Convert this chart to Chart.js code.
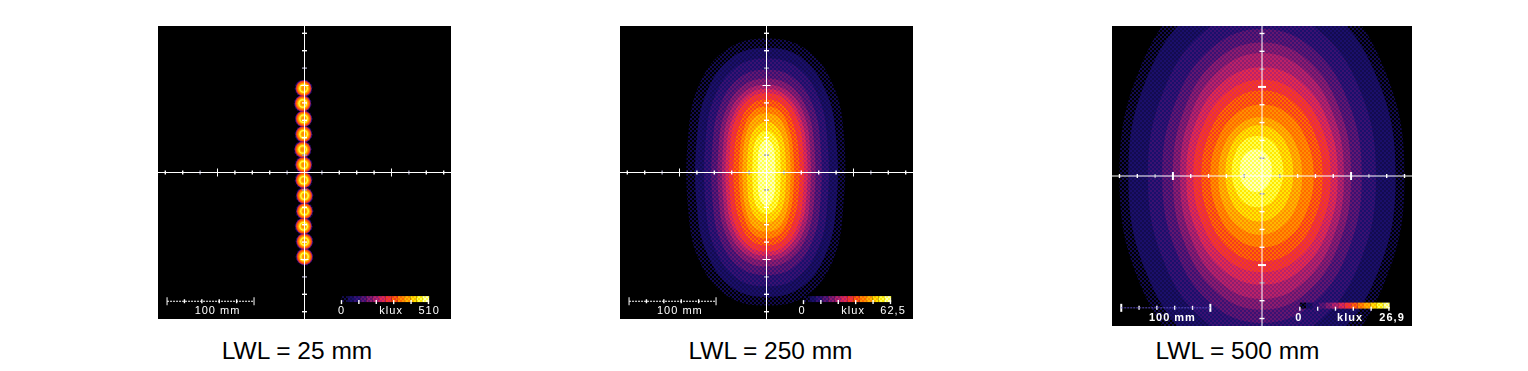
<!DOCTYPE html>
<html>
<head>
<meta charset="utf-8">
<script src="https://cdn.jsdelivr.net/npm/chart.js@4/dist/chart.umd.min.js"></script>
<style>
  html, body { margin: 0; padding: 0; background: #fff; width: 1528px; height: 371px; overflow: hidden; }
  canvas { position: absolute; top: 0; }
  .lwl { position: absolute; top: 336px; width: 300px; text-align: center; font: 24.5px/29px "Liberation Sans", sans-serif; color: #000; }
</style>
</head>
<body>
<canvas id="lwl25" width="293" height="319" style="left:158px"></canvas>
<canvas id="lwl250" width="293" height="319" style="left:620px"></canvas>
<canvas id="lwl500" width="300" height="326" style="left:1112px"></canvas>
<div class="lwl" id="title25" style="left:147px"></div>
<div class="lwl" id="title250" style="left:620.5px"></div>
<div class="lwl" id="title500" style="left:1087.5px"></div>
<script>
// all positions in mm
const tickMm = [-160, -140, -120, -100, -80, -60, -40, -20, 20, 40, 60, 80, 100, 120, 140, 160];
const majorTickMm = [-100, 100];
const fadedTickMm = [-120, -20, 20, 120];

const titles = ["LWL = 25 mm", "LWL = 250 mm", "LWL = 500 mm"];
const scaleBarTicks = [-158, -138, -118, -98, -78, -58];
const colorbarTicks = [42.5, 62.5, 82.5, 102.5, 122.5, 142.5];

const labels25 = [["100 mm", -100], ["0", 42.5], ["klux", 99.6], ["510", 143.3]];
const labels250 = [["100 mm", -99.6], ["0", 41], ["klux", 99.6], ["62,5", 145.5]];
const labels500 = [["100 mm", -100.6], ["0", 41.2], ["klux", 98.9], ["26,9", 146]];

// LWL 25: spot centres
const beadX = [-1, -2, -1, -1, -2, -1, -1, 0, 0, -1, 0, 0];
const beadY = [96.6, 79.3, 61.7, 44, 26.4, 8.8, -8.8, -26.8, -44.4, -61.7, -79.3, -96.9];

// LWL 250: iso-illuminance outlines, outermost first
const outlines250 = [
  [[0,154],[45,142],[76,102],[89,43],[88,-43],[76,-102],[45,-142],[0,-153],[-45,-142],[-77,-102],[-90,-43],[-90,43],[-77,102],[-45,142]],
  [[0,143],[40,132],[68,94],[80,40],[80,-40],[68,-94],[40,-132],[0,-143],[-40,-132],[-68,-94],[-80,-40],[-80,40],[-68,94],[-40,132]],
  [[0,131],[35,121],[60,86],[70,37],[70,-37],[60,-86],[35,-121],[0,-131],[-35,-121],[-60,-86],[-70,-37],[-70,37],[-60,86],[-35,121]],
  [[0,118],[31,109],[53,78],[62,33],[62,-33],[53,-78],[31,-109],[0,-118],[-31,-109],[-53,-78],[-62,-33],[-62,33],[-53,78],[-31,109]],
  [[0,108],[28,99],[47,71],[55,30],[55,-30],[47,-71],[28,-99],[0,-108],[-28,-99],[-47,-71],[-55,-30],[-55,30],[-47,71],[-28,99]],
  [[0,101],[25,93],[43,67],[50,28],[50,-28],[43,-67],[25,-93],[0,-101],[-25,-93],[-43,-67],[-50,-28],[-50,28],[-43,67],[-25,93]],
  [[0,96],[23,88],[39,63],[46,27],[46,-27],[39,-63],[23,-88],[0,-96],[-23,-88],[-39,-63],[-46,-27],[-46,27],[-39,63],[-23,88]],
  [[0,91],[21,84],[36,60],[42,25],[42,-25],[36,-60],[21,-84],[0,-91],[-21,-84],[-36,-60],[-42,-25],[-42,25],[-36,60],[-21,84]],
  [[0,84],[19,77],[31,55],[37,24],[37,-24],[31,-55],[19,-77],[0,-84],[-19,-77],[-31,-55],[-37,-24],[-37,24],[-31,55],[-19,77]],
  [[0,76],[16,70],[26,50],[31,21],[31,-21],[26,-50],[16,-70],[0,-76],[-16,-70],[-26,-50],[-31,-21],[-31,21],[-26,50],[-16,70]],
  [[0,68],[14,63],[23,45],[27,19],[27,-19],[23,-45],[14,-63],[0,-68],[-14,-63],[-23,-45],[-27,-19],[-27,19],[-23,45],[-14,63]],
  [[0,58],[11,53],[19,38],[22,16],[22,-16],[19,-38],[11,-53],[0,-58],[-11,-53],[-19,-38],[-22,-16],[-22,16],[-19,38],[-11,53]],
  [[0,48],[8,44],[14,32],[16,13],[16,-13],[14,-32],[8,-44],[0,-48],[-8,-44],[-14,-32],[-16,-13],[-16,13],[-14,32],[-8,44]],
  [[0,38],[5,35],[9,25],[10,11],[10,-11],[9,-25],[5,-35],[0,-38],[-5,-35],[-9,-25],[-10,-11],[-10,11],[-9,25],[-5,35]]
];

// LWL 500
const outlines500 = [
  [[0,232],[80,202],[139,116],[160,0],[139,-116],[80,-202],[0,-232],[-80,-202],[-139,-116],[-160,0],[-139,116],[-80,202]],
  [[0,215],[75,187],[130,108],[150,0],[130,-108],[75,-187],[0,-215],[-75,-187],[-130,-108],[-150,0],[-130,108],[-75,187]],
  [[0,187],[64,163],[111,94],[128,0],[111,-94],[64,-163],[0,-187],[-64,-163],[-111,-94],[-128,0],[-111,94],[-64,163]],
  [[0,165],[56,144],[97,83],[112,0],[97,-83],[56,-144],[0,-165],[-56,-144],[-97,-83],[-112,0],[-97,83],[-56,144]],
  [[0,150],[50,131],[87,75],[100,0],[87,-75],[50,-131],[0,-150],[-50,-131],[-87,-75],[-100,0],[-87,75],[-50,131]],
  [[0,138],[46,120],[80,69],[92,0],[80,-69],[46,-120],[0,-138],[-46,-120],[-80,-69],[-92,0],[-80,69],[-46,120]],
  [[0,122],[43,106],[74,61],[85,0],[74,-61],[43,-106],[0,-122],[-43,-106],[-74,-61],[-85,0],[-74,61],[-43,106]],
  [[0,108],[39,94],[67,54],[77,0],[67,-54],[39,-94],[0,-108],[-39,-94],[-67,-54],[-77,0],[-67,54],[-39,94]],
  [[0,96],[34,84],[59,48],[68,0],[59,-48],[34,-84],[0,-96],[-34,-84],[-59,-48],[-68,0],[-59,48],[-34,84]],
  [[0,80],[29,70],[50,40],[58,0],[50,-40],[29,-70],[0,-80],[-29,-70],[-50,-40],[-58,0],[-50,40],[-29,70]],
  [[-2,66],[22,57],[39,33],[45,0],[39,-33],[22,-57],[-2,-66],[-26,-57],[-43,-33],[-49,0],[-43,33],[-26,57]],
  [[-3,57],[16,50],[30,30],[35,3],[30,-24],[16,-44],[-3,-51],[-22,-44],[-36,-24],[-41,3],[-36,30],[-22,50]],
  [[-5,45],[10,40],[20,25],[24,5],[20,-15],[10,-30],[-5,-35],[-20,-30],[-30,-15],[-34,5],[-30,25],[-20,40]],
  [[-7,30],[2,27],[9,18],[11,6],[9,-6],[2,-15],[-7,-18],[-16,-15],[-23,-6],[-25,6],[-23,18],[-16,27]]
];

const rampStops = ["#000000", "#130b50", "#1b0f6b", "#3a1172", "#641670", "#8f1c6e", "#bb2268", "#e62a4c",
  "#f53a20", "#ff6a00", "#ff9000", "#ffb800", "#ffe800", "#ffff50", "#ffffc0"];

function checker(a, b) {
  const c = document.createElement("canvas");
  c.width = 4;
  c.height = 4;
  const g = c.getContext("2d");
  g.fillStyle = a;
  g.fillRect(0, 0, 4, 4);
  g.fillStyle = b;
  g.fillRect(0, 0, 2, 2);
  g.fillRect(2, 2, 2, 2);
  return g.createPattern(c, "repeat");
}

// same dithered ramp for the outlines and the colour bar
const ramp = rampStops.slice(1).map((c, i) => checker(rampStops[i], c));

const beadLayers = [
  [9, ramp[0]], [8.4, "#2a1070"], [8, "#7a1a70"], [7.6, "#d0264f"], [7.1, "#ff5a00"],
  [6, "#ff9000"], [5, "#ffd000"], [4.2, "#ffff50"], [3.2, "#ffd000"], [2.4, "#ff9000"]
];

// fill the outline path of a dataset, the line element keeps the scales
const outlineFill = {
  id: "outlineFill",
  beforeDatasetDraw(chart, args) {
    const ds = chart.data.datasets[args.index];
    if (!ds.outline) return;
    const line = args.meta.dataset;
    const area = chart.chartArea;
    const ctx = chart.ctx;
    line.updateControlPoints(area);
    ctx.save();
    ctx.beginPath();
    ctx.rect(area.left, area.top, area.width, area.height);
    ctx.clip();
    ctx.beginPath();
    line.path(ctx);
    ctx.closePath();
    ctx.fillStyle = ds.backgroundColor;
    ctx.fill();
    ctx.restore();
  }
};

const imageLabels = {
  id: "imageLabels",
  afterDatasetsDraw(chart, args, opts) {
    const ctx = chart.ctx;
    ctx.save();
    ctx.fillStyle = "#fff";
    ctx.font = opts.font;
    ctx.letterSpacing = "1px";
    ctx.textAlign = "center";
    ctx.textBaseline = "alphabetic";
    opts.items.forEach(([text, x]) => {
      ctx.fillText(text, chart.scales.x.getPixelForValue(x), chart.scales.y.getPixelForValue(-163));
    });
    ctx.restore();
  }
};

const blackArea = {
  id: "blackArea",
  beforeDraw(chart) {
    const a = chart.chartArea;
    chart.ctx.save();
    chart.ctx.fillStyle = "#000";
    chart.ctx.fillRect(a.left, a.top, a.width, a.height);
    chart.ctx.restore();
  }
};

function lineSet(points, color, width) {
  return {
    data: points.map(p => ({ x: p[0], y: p[1] })),
    showLine: true,
    borderColor: color,
    borderWidth: width,
    pointRadius: 0,
    tension: 0
  };
}

function tickSet(points, size, width, color, rotation) {
  return {
    data: points.map(p => ({ x: p[0], y: p[1] })),
    showLine: false,
    pointStyle: "line",
    pointRadius: size,
    pointRotation: rotation,
    pointBorderWidth: width,
    pointBorderColor: color,
    pointBackgroundColor: color
  };
}

function overlaySets(barLineColor, majorWidth) {
  const minor = tickMm.filter(v => !majorTickMm.includes(v) && !fadedTickMm.includes(v));
  const sets = [];
  // axes
  sets.push(lineSet([[-168.4, 0], [168.4, 0]], "#fff", 1));
  sets.push(lineSet([[0, -168.4], [0, 168.4]], "#fff", 1));
  sets.push(tickSet(minor.map(v => [v, 0]), 2, 1.4, "#fff", 90));
  sets.push(tickSet(minor.map(v => [0, v]), 2.5, 1.4, "#fff", 0));
  sets.push(tickSet(fadedTickMm.map(v => [v, 0]), 2, 1.4, "#9a9ab4", 90));
  sets.push(tickSet(fadedTickMm.map(v => [0, v]), 2.5, 1.4, "#9a9ab4", 0));
  sets.push(tickSet(majorTickMm.map(v => [v, 0]), 4, majorWidth, "#fff", 90));
  sets.push(tickSet(majorTickMm.map(v => [0, v]), 4, majorWidth, "#fff", 0));
  // scale bar
  const bar = lineSet(scaleBarTicks.map(v => [v, -148]), barLineColor, 1);
  bar.borderDash = [2, 1];
  sets.push(bar);
  sets.push(tickSet(scaleBarTicks.slice(1, -1).map(v => [v, -148]), 2, 1.4, "#fff", 90));
  sets.push(tickSet([scaleBarTicks[0], scaleBarTicks[5]].map(v => [v, -148]), 4, majorWidth, "#fff", 90));
  // colour bar
  sets.push(tickSet(colorbarTicks.map(v => [v, -149]), 2, 1.4, "#fff", 90));
  const step = (143.3 - 42.5) / ramp.length;
  const barPoints = [];
  for (let i = 0; i <= ramp.length; i++) barPoints.push([42.5 + i * step, -145.5]);
  const colorbar = lineSet(barPoints, "#000", 6);
  colorbar.borderCapStyle = "butt";
  colorbar.segment = { borderColor: c => ramp[c.p0DataIndex] };
  sets.push(colorbar);
  return sets;
}

function outlineSets(outlines) {
  // innermost first, because Chart.js paints the first dataset last
  return outlines.map((pts, i) => {
    const n = pts.length;
    const wrapped = [pts[n - 1], ...pts, pts[0], pts[1]];
    return {
      outline: true,
      backgroundColor: ramp[i],
      data: wrapped.map(p => ({ x: p[0], y: p[1] })),
      showLine: true,
      borderWidth: 0,
      pointRadius: 0,
      tension: 0.4
    };
  }).reverse();
}

function beadSets() {
  const points = beadX.map((x, i) => ({ x, y: beadY[i] }));
  return beadLayers.map(([radius, color]) => ({
    data: points,
    showLine: false,
    pointStyle: "circle",
    pointRadius: radius,
    pointBorderWidth: 0,
    pointBackgroundColor: color
  })).reverse();
}

function drawPanel(id, datasets, labels, padding, labelFont) {
  new Chart(document.getElementById(id), {
    type: "scatter",
    data: { datasets },
    plugins: [blackArea, outlineFill, imageLabels],
    options: {
      responsive: false,
      animation: false,
      events: [],
      layout: { padding, autoPadding: false },
      scales: {
        x: { type: "linear", display: false, min: -168.4, max: 168.4 },
        y: { type: "linear", display: false, min: -168.4, max: 168.4 }
      },
      plugins: {
        legend: { display: false },
        tooltip: { enabled: false },
        imageLabels: { items: labels, font: labelFont }
      }
    }
  });
}

document.getElementById("title25").textContent = titles[0];
document.getElementById("title250").textContent = titles[1];
document.getElementById("title500").textContent = titles[2];

const thinFont = "11px 'Liberation Sans'";
const padTop = { left: 0, right: 0, top: 26, bottom: 0 };
drawPanel("lwl25", [...overlaySets("#fff", 1), ...beadSets()], labels25, padTop, thinFont);
drawPanel("lwl250", [...overlaySets("#fff", 1), ...outlineSets(outlines250)], labels250, padTop, thinFont);
drawPanel("lwl500", [...overlaySets("#5a4ac0", 2), ...outlineSets(outlines500)], labels500, padTop, "bold 11px 'Liberation Sans'");
</script>
</body>
</html>
